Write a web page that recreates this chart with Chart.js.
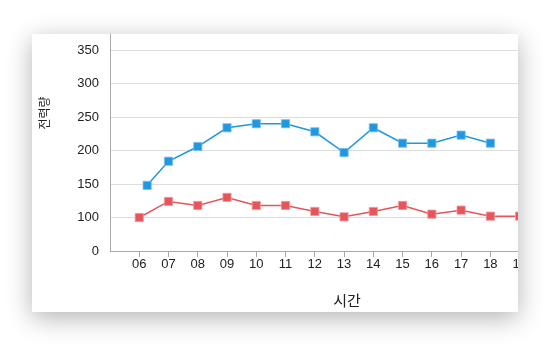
<!DOCTYPE html>
<html lang="ko">
<head>
  <meta charset="UTF-8">
  <title>전력량</title>
  <script src="https://cdn.jsdelivr.net/npm/chart.js"></script>
  <style>
    html, body { margin: 0; padding: 0; background: #fff; }
    body { width: 558px; height: 351px; position: relative; overflow: hidden; }
    .card {
      position: absolute; left: 32px; top: 34px; width: 486px; height: 278px;
      background: #fff; overflow: hidden;
      box-shadow: 0 6px 24px rgba(0, 0, 0, 0.3);
    }
    .card canvas { position: absolute; left: 0; top: 0; }
  </style>
</head>
<body>
  <div class="card">
    <canvas id="chart" width="552" height="278"></canvas>
  </div>
  <script>
    // 시간 (x), 값은 그림에서 읽음
    const xTicks = [6, 7, 8, 9, 10, 11, 12, 13, 14, 15, 16, 17, 18, 19, 20];
    const xTickLabels = ['06', '07', '08', '09', '10', '11', '12', '13', '14', '15', '16', '17', '18', '19', '20'];

    // 파란 계열 (첫 점은 06시 조금 뒤)
    const blueHours = [6.27, 7, 8, 9, 10, 11, 12, 13, 14, 15, 16, 17, 18];
    const blueValues = [148, 184, 206, 234, 240, 240, 228, 197, 234, 211, 211, 223, 211];

    // 빨간 계열
    const redHours = [6, 7, 8, 9, 10, 11, 12, 13, 14, 15, 16, 17, 18, 19];
    const redValues = [100, 124, 118, 130, 118, 118, 109, 101, 109, 118, 105, 111, 102, 102];

    // y축은 0~100 구간이 생략된 축: 0 라벨이 100 아래 한 칸에 붙음
    const yTicks = [50, 100, 150, 200, 250, 300, 350];
    const yTickLabels = ['0', '100', '150', '200', '250', '300', '350'];

    const xTitle = '시간';
    const yTitle = '전력량';

    const FONT = '"Liberation Sans", Arial, "Noto Sans CJK KR", sans-serif';
    const axisColor = '#a9a9a9';

    function toPoints(xs, ys) {
      return xs.map((x, i) => ({ x: x, y: ys[i] }));
    }

    // y축 제목은 직접 그림 (위치가 축 가운데가 아님)
    const yTitlePlugin = {
      id: 'yTitle',
      afterDraw(chart) {
        const ctx = chart.ctx;
        ctx.save();
        ctx.translate(14, 79);
        ctx.rotate(-Math.PI / 2);
        ctx.font = '12px ' + FONT;
        ctx.fillStyle = '#222';
        ctx.textAlign = 'center';
        ctx.textBaseline = 'middle';
        ctx.fillText(yTitle, 0, 0);
        ctx.restore();
      }
    };

    Chart.defaults.font.family = FONT;
    Chart.defaults.color = '#222';

    new Chart(document.getElementById('chart'), {
      type: 'line',
      data: {
        datasets: [{
          data: toPoints(blueHours, blueValues),
          borderColor: '#1f98e0',
          backgroundColor: '#1f98e0',
          borderWidth: 1.5,
          pointStyle: 'rect',
          pointRadius: 5.8,
          pointBorderWidth: 1,
          pointBorderColor: 'rgba(120, 190, 240, 0.8)',
          tension: 0
        }, {
          data: toPoints(redHours, redValues),
          borderColor: '#e5555a',
          backgroundColor: '#e5555a',
          borderWidth: 1.5,
          pointStyle: 'rect',
          pointRadius: 5.8,
          pointBorderWidth: 1,
          pointBorderColor: 'rgba(240, 150, 155, 0.8)',
          tension: 0
        }]
      },
      options: {
        responsive: false,
        animation: false,
        devicePixelRatio: 1,
        layout: { autoPadding: false, padding: 0 },
        plugins: { legend: { display: false }, tooltip: { enabled: false } },
        scales: {
          x: {
            type: 'linear',
            position: 'bottom',
            min: 5,
            max: 21.2,
            afterBuildTicks: scale => { scale.ticks = xTicks.map(v => ({ value: v })); },
            afterFit: scale => { scale.height = 61; scale.paddingLeft = 0; scale.paddingRight = 0; },
            ticks: {
              autoSkip: false,
              maxRotation: 0,
              padding: 0,
              font: { size: 13 },
              callback: value => xTickLabels[xTicks.indexOf(value)]
            },
            grid: { drawOnChartArea: false, tickLength: 6, color: axisColor },
            border: { color: axisColor },
            title: { display: true, text: xTitle, font: { size: 15 }, padding: { top: 0, bottom: 1 } }
          },
          y: {
            min: 50,
            max: 374,
            afterBuildTicks: scale => { scale.ticks = yTicks.map(v => ({ value: v })); },
            afterFit: scale => { scale.width = 78; scale.paddingTop = 0; scale.paddingBottom = 0; },
            ticks: {
              padding: 11,
              font: { size: 13 },
              callback: value => yTickLabels[yTicks.indexOf(value)]
            },
            grid: { drawTicks: false, color: '#dedede' },
            border: { color: axisColor }
          }
        }
      },
      plugins: [yTitlePlugin]
    });
  </script>
</body>
</html>
